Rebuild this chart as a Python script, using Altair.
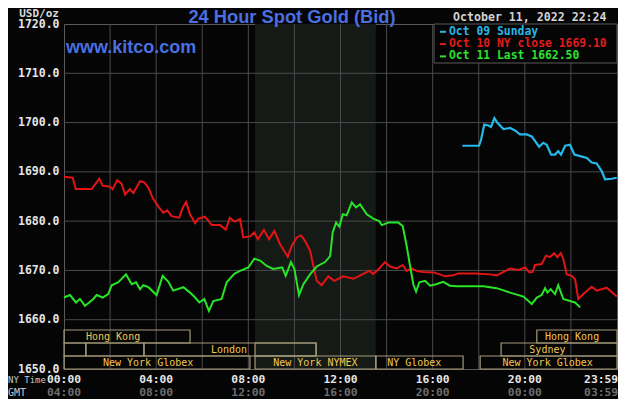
import altair as alt
import pandas as pd

# ---------------- data (hours after 00:00 NY time, price USD/oz) ----------------
red_h = [0.0, 0.38, 0.51, 1.20, 1.53, 1.68, 2.00, 2.11, 2.31, 2.50, 2.65, 2.86, 3.01, 3.30, 3.47, 3.66,
         3.85, 4.09, 4.31, 4.48, 4.67, 5.00, 5.15, 5.30, 5.47, 5.69, 5.83, 6.12, 6.41, 6.77, 7.02, 7.20,
         7.39, 7.64, 7.78, 8.07, 8.26, 8.41, 8.68, 8.90, 9.13, 9.38, 9.71, 9.88, 10.10, 10.29, 10.46,
         10.68, 10.82, 10.97, 11.18, 11.47, 11.73, 12.12, 12.56, 12.99, 13.25, 13.42, 13.68, 13.93,
         14.15, 14.44, 14.70, 14.87, 15.09, 15.31, 15.59, 16.06, 16.54, 16.90, 17.11, 17.84, 18.49,
         18.78, 19.36, 19.72, 20.01, 20.20, 20.34, 20.44, 20.73, 20.92, 21.09, 21.27, 21.41, 21.56,
         21.67, 21.82, 22.04, 22.18, 22.32, 22.54, 22.90, 23.12, 23.55, 23.77, 23.99]
red_p = [1689.0, 1688.8, 1686.5, 1686.5, 1688.6, 1687.2, 1687.0, 1686.5, 1688.3, 1687.6, 1685.4, 1686.5,
         1685.7, 1688.1, 1687.9, 1686.8, 1684.7, 1683.0, 1681.7, 1682.2, 1681.0, 1680.7, 1682.7, 1683.9,
         1681.4, 1679.6, 1680.5, 1680.9, 1679.2, 1679.2, 1678.3, 1680.7, 1679.9, 1680.4, 1676.7, 1676.9,
         1677.7, 1676.3, 1678.2, 1676.3, 1678.0, 1675.3, 1672.8, 1674.9, 1676.7, 1677.1, 1676.0, 1674.0,
         1671.0, 1667.9, 1667.0, 1668.8, 1667.9, 1668.8, 1668.3, 1669.3, 1669.9, 1669.3, 1670.4, 1671.7,
         1670.8, 1670.4, 1671.1, 1669.9, 1670.4, 1669.9, 1669.7, 1669.6, 1668.8, 1669.0, 1669.4, 1669.4,
         1669.2, 1669.0, 1670.4, 1670.1, 1670.6, 1669.6, 1669.7, 1671.1, 1671.3, 1673.0, 1672.7, 1673.5,
         1672.7, 1673.5, 1672.3, 1669.2, 1668.9, 1668.2, 1664.2, 1665.2, 1666.7, 1665.9, 1666.5, 1665.6,
         1664.7]

green_h = [0.0, 0.26, 0.52, 0.69, 0.91, 1.27, 1.42, 1.68, 1.92, 2.07, 2.36, 2.69, 2.94, 3.13, 3.30, 3.44,
           3.66, 4.02, 4.28, 4.53, 4.74, 5.18, 5.47, 5.69, 5.87, 6.09, 6.29, 6.48, 6.84, 7.06, 7.39, 7.64,
           8.00, 8.26, 8.51, 8.80, 9.08, 9.47, 9.62, 9.85, 10.00, 10.20, 10.39, 10.68, 10.97, 11.33, 11.55,
           11.66, 11.81, 11.95, 12.10, 12.27, 12.49, 12.67, 12.85, 13.14, 13.42, 13.68, 13.79, 14.08,
           14.51, 14.70, 14.87, 15.02, 15.16, 15.28, 15.42, 15.67, 15.89, 16.15, 16.46, 16.75, 17.04,
           17.84, 18.20, 18.78, 19.36, 19.94, 20.30, 20.52, 20.73, 20.88, 20.98, 21.12, 21.31, 21.45,
           21.67, 21.96, 22.18, 22.40]
green_p = [1664.5, 1665.0, 1663.5, 1664.2, 1662.8, 1664.2, 1665.0, 1664.5, 1665.2, 1667.0, 1667.6, 1669.2,
           1667.2, 1667.6, 1666.2, 1667.0, 1666.6, 1665.0, 1668.9, 1667.7, 1665.9, 1666.6, 1665.5, 1664.5,
           1663.5, 1664.2, 1661.8, 1663.8, 1664.2, 1667.6, 1669.3, 1669.9, 1670.6, 1672.4, 1672.0, 1670.9,
           1670.3, 1670.6, 1668.9, 1671.7, 1670.3, 1665.0, 1667.2, 1669.2, 1670.8, 1671.7, 1672.9, 1677.7,
           1679.7, 1678.9, 1681.4, 1681.2, 1683.8, 1682.8, 1683.4, 1681.4, 1680.5, 1680.0, 1679.2, 1679.7,
           1679.7, 1679.0, 1675.0, 1670.9, 1667.2, 1665.7, 1667.6, 1667.9, 1666.9, 1667.2, 1667.7, 1666.9,
           1666.8, 1666.8, 1666.8, 1666.4, 1665.5, 1664.7, 1663.2, 1664.5, 1665.0, 1666.4, 1665.5, 1666.2,
           1665.2, 1667.0, 1664.2, 1663.8, 1663.5, 1662.5]

cyan_h = [17.29, 18.01, 18.10, 18.24, 18.42, 18.53, 18.68, 18.82, 19.07, 19.36, 19.57, 19.79, 20.08, 20.30,
          20.62, 20.80, 20.95, 21.14, 21.31, 21.45, 21.57, 21.75, 21.96, 22.15, 22.40, 22.69, 22.90, 23.12,
          23.34, 23.48, 23.77, 23.99]
cyan_p = [1695.3, 1695.3, 1696.5, 1699.6, 1699.4, 1699.1, 1700.9, 1699.9, 1698.7, 1698.9, 1698.4, 1697.6,
          1697.6, 1697.2, 1695.1, 1695.9, 1695.5, 1693.5, 1693.5, 1694.2, 1693.5, 1695.3, 1695.5, 1693.5,
          1693.2, 1692.8, 1691.9, 1691.7, 1690.1, 1688.5, 1688.6, 1688.8]

y_ticks = [1650, 1660, 1670, 1680, 1690, 1700, 1710, 1720]
x_grid = [2, 4, 6, 8, 10, 12, 14, 16, 18, 20, 22]
ny_hours = [0, 4, 8, 12, 16, 20]
ny_labels = ["00:00", "04:00", "08:00", "12:00", "16:00", "20:00"]
gmt_labels = ["04:00", "08:00", "12:00", "16:00", "20:00", "00:00"]
end_hour = 23.983
end_ny, end_gmt = "23:59", "03:59"

nymex_open, nymex_close = 8.29, 13.53

sess_label = ["Hong Kong", "Hong Kong", "", "", "London", "", "Sydney",
              "New York Globex", "New York NYMEX", "NY Globex", "New York Globex"]
sess_start = [0, 20.52, 0, 0.95, 3.47, 8.29, 18.97, 0, 8.29, 13.54, 18.06]
sess_end = [5.47, 24, 0.95, 3.47, 10.94, 10.94, 24, 8.07, 13.53, 17.32, 24]
sess_row = [1, 1, 2, 2, 2, 2, 2, 3, 3, 3, 3]
sess_text_at = [2.13, 22.05, 0.5, 2.2, 7.16, 9.6, 20.98, 3.65, 10.91, 15.2, 20.99]

legend_text = ["Oct 09 Sunday", "Oct 10 NY close 1669.10", "Oct 11 Last 1662.50"]
legend_color = ["#2bb6e6", "#e01c1c", "#2ee02e"]

# ---------------- layout ----------------
W, H = 553, 345
MONO = "DejaVu Sans Mono"
GRID = "#4a4a4a"
BOX = "#a39a78"
GOLD = "#f2c552"

xs = alt.Scale(domain=[0, 24], nice=False, zero=False)
ys = alt.Scale(domain=[1650, 1720], nice=False, zero=False)
yaxis = alt.Axis(values=y_ticks, format=".1f", labelFont=MONO, labelFontSize=11.5,
                 labelFontWeight="bold", labelColor="#e4e4e4", ticks=False, domain=False,
                 grid=False, labelPadding=5, title=None)


def X(field):
    return alt.X(field, type="quantitative", scale=xs, axis=None)


def Y(field):
    return alt.Y(field, type="quantitative", scale=ys, axis=yaxis)


one = pd.DataFrame({"k": [0]})

shade = alt.Chart(pd.DataFrame({"a": [nymex_open], "b": [nymex_close]})).mark_rect(
    color="#161a16").encode(x=X("a"), x2="b", y=alt.value(0), y2=alt.value(H))

hgrid = alt.Chart(pd.DataFrame({"v": y_ticks[1:-1]})).mark_rule(
    color=GRID, strokeWidth=1).encode(y=Y("v"), x=alt.value(0), x2=alt.value(W))
vgrid = alt.Chart(pd.DataFrame({"h": x_grid})).mark_rule(
    color=GRID, strokeWidth=1).encode(x=X("h"), y=alt.value(0), y2=alt.value(H))

row_top = {1: H - 39, 2: H - 26, 3: H - 13}
sess = pd.DataFrame({"label": sess_label, "s": sess_start, "e": sess_end,
                     "row": sess_row, "at": sess_text_at})
sess["yt"] = sess["row"].map(row_top)
sess["yb"] = sess["yt"] + 13
sess["ym"] = sess["yt"] + 6.5

sess_box = alt.Chart(sess).mark_rect(fillOpacity=0, fill="#000000", stroke=BOX, strokeWidth=1.2).encode(
    x=X("s"), x2="e", y=alt.Y("yt:Q", scale=None), y2="yb")
sess_txt = alt.Chart(sess).mark_text(font=MONO, fontSize=10, color=GOLD, baseline="middle").encode(
    x=X("at"), y=alt.Y("ym:Q", scale=None), text="label:N")


def line(h, p, color, w=2):
    return alt.Chart(pd.DataFrame({"h": h, "p": p})).mark_line(
        color=color, strokeWidth=w).encode(x=X("h"), y=Y("p"))


red = line(red_h, red_p, "#e31414")
green = line(green_h, green_p, "#27e427")
cyan = line(cyan_h, cyan_p, "#25b8ea", 2.2)

# legend box (top-right, covers the grid)
LX0, LX1, LY1 = 370, W, 39
leg_box = alt.Chart(one).mark_rect(fill="#050505", stroke="#5a5a5a", strokeWidth=1).encode(
    x=alt.value(LX0), x2=alt.value(LX1), y=alt.value(0), y2=alt.value(LY1))
leg = pd.DataFrame({"t": legend_text, "c": legend_color})
leg["y"] = [7.8 + 12.3 * i for i in range(len(leg))]
leg_dash = alt.Chart(leg).mark_rule(strokeWidth=2).encode(
    x=alt.value(376), x2=alt.value(382), y=alt.Y("y:Q", scale=None), color=alt.Color("c:N", scale=None))
leg_txt = alt.Chart(leg).mark_text(font=MONO, fontSize=11.4, fontWeight="bold", align="left",
                                   baseline="middle").encode(
    x=alt.value(385), y=alt.Y("y:Q", scale=None), text="t:N", color=alt.Color("c:N", scale=None))


def label(txt, x, y, size, color, font=MONO, align="left", weight="normal", base="alphabetic"):
    return alt.Chart(one).mark_text(text=txt, font=font, fontSize=size, color=color, align=align,
                                    fontWeight=weight, baseline=base).encode(x=alt.value(x), y=alt.value(y))


title = label("24 Hour Spot Gold (Bid)", 228, -1, 18.3, "#4a6fe0", font="Liberation Sans",
              align="center", weight="bold")
kitco = label("www.kitco.com", 2, 28.5, 18, "#4a6fe0", font="Liberation Sans", weight="bold")
date = label("October 11, 2022 22:24", 389, -3, 11.6, "#d2d2d2", weight="bold")
unit = label("USD/oz", -5, -7.5, 11, "#dadada", align="right", weight="bold")
nytime = label("NY Time", -56, 356, 9, "#c8c8c8", base="middle")
gmt = label("GMT", -56, 369, 10, "#c8c8c8", base="middle")

ticks = pd.DataFrame({"h": ny_hours, "ny": ny_labels, "gmt": gmt_labels})
ny_txt = alt.Chart(ticks).mark_text(font=MONO, fontSize=11.3, fontWeight="bold", color="#e6e6e6",
                                    baseline="middle").encode(x=X("h"), y=alt.value(356), text="ny:N")
gmt_txt = alt.Chart(ticks).mark_text(font=MONO, fontSize=11.3, fontWeight="bold", color="#6e6e6e",
                                     baseline="middle").encode(x=X("h"), y=alt.value(369), text="gmt:N")
endt = pd.DataFrame({"h": [end_hour], "ny": [end_ny], "gmt": [end_gmt]})
end_ny_txt = alt.Chart(endt).mark_text(font=MONO, fontSize=11.3, fontWeight="bold", color="#e6e6e6",
                                       baseline="middle", align="right", dx=1.5).encode(
    x=X("h"), y=alt.value(356), text="ny:N")
end_gmt_txt = alt.Chart(endt).mark_text(font=MONO, fontSize=11.3, fontWeight="bold", color="#6e6e6e",
                                        baseline="middle", align="right", dx=1.5).encode(
    x=X("h"), y=alt.value(369), text="gmt:N")

chart = alt.layer(
    shade, hgrid, vgrid, sess_box, sess_txt, red, green, cyan,
    leg_box, leg_dash, leg_txt, title, kitco, date, unit, nytime, gmt,
    ny_txt, gmt_txt, end_ny_txt, end_gmt_txt,
).properties(
    width=W, height=H,
    padding={"left": 56, "top": 16, "right": 1, "bottom": 30},
    autosize=alt.AutoSizeParams(type="none"),
    background="#050505",
).configure_view(stroke="#5a5a5a", strokeWidth=1)

chart.save("out.html", embed_options={"renderer": "svg", "actions": False})
